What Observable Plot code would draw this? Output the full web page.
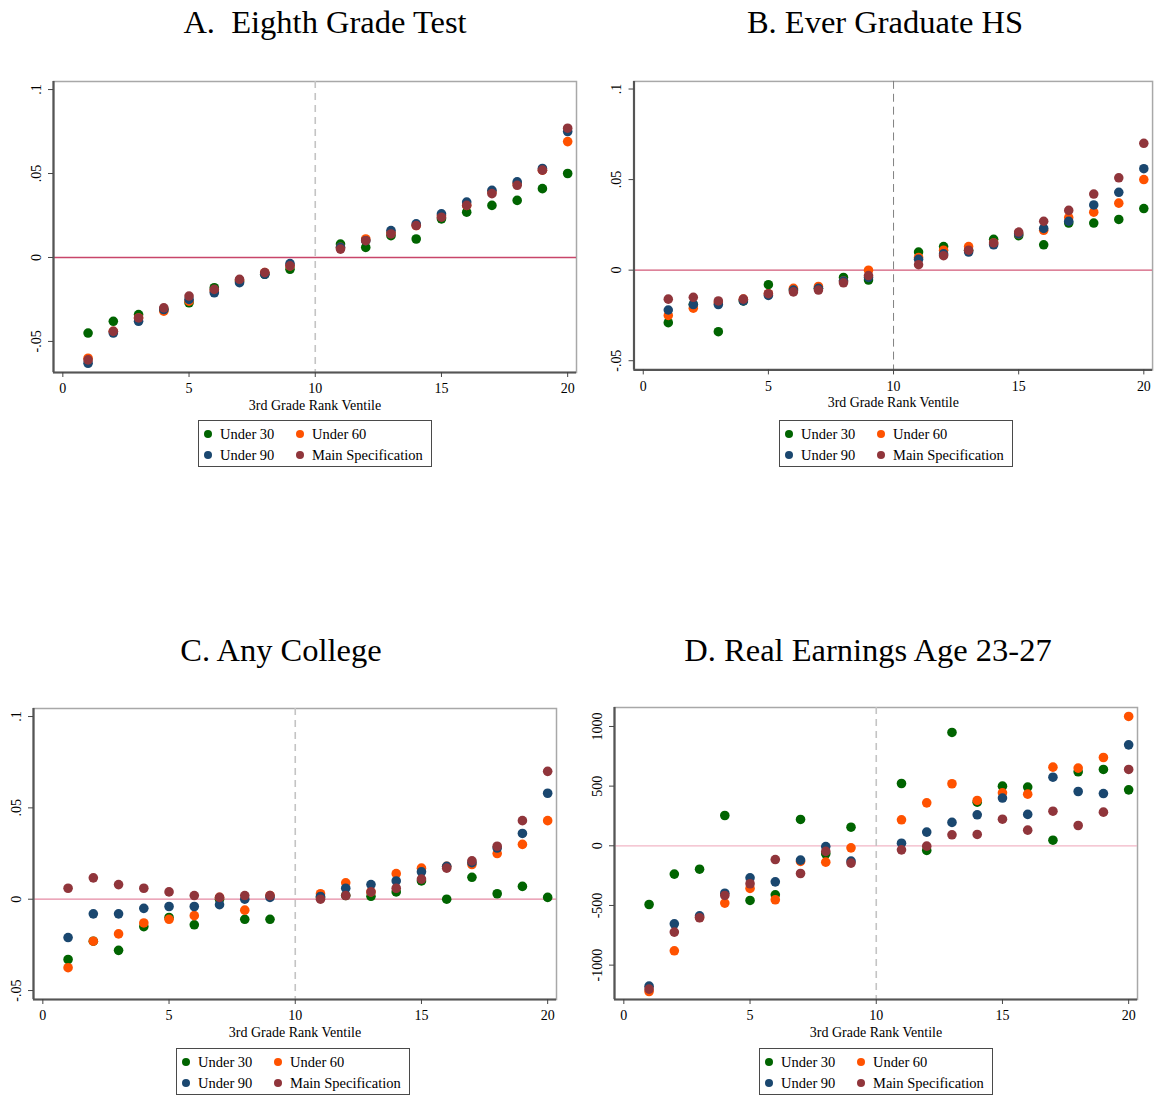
<!DOCTYPE html>
<html>
<head>
<meta charset="utf-8">
<script src="https://cdn.jsdelivr.net/npm/d3@7"></script>
<script src="https://cdn.jsdelivr.net/npm/@observablehq/plot@0.6"></script>
<style>
  body { margin: 0; background: #fff; }
  #root { position: relative; width: 1162px; height: 1097px; overflow: hidden; background: #fff; font-family: "Liberation Serif", "Times New Roman", serif; color: #000; }
  .title { position: absolute; font-size: 32.5px; white-space: pre; transform: translate(-50%, -50%); line-height: 1; }
  .panel { position: absolute; }
  .legend { position: absolute; width: 234px; height: 47px; border: 1.5px solid #4a4a4a; box-sizing: border-box; background: #fff; font-size: 14.5px; }
  .legend .dot { position: absolute; width: 8px; height: 8px; border-radius: 50%; transform: translate(-50%, -50%); }
  .legend .lab { position: absolute; white-space: nowrap; transform: translateY(-50%); line-height: 1; }
</style>
</head>
<body>
<div id="root"></div>
<script>
// ---------- data ----------
const ventiles = [1, 2, 3, 4, 5, 6, 7, 8, 9, 11, 12, 13, 14, 15, 16, 17, 18, 19, 20];
const seriesNames = ["Under 30", "Under 60", "Under 90", "Main Specification"];
const seriesColors = ["#006400", "#ff5200", "#1a476f", "#90353b"];

// A. Eighth Grade Test
const aUnder30 = [-0.045, -0.038, -0.034, -0.031, -0.027, -0.018, -0.014, -0.010, -0.007, 0.008, 0.006, 0.013, 0.011, 0.023, 0.027, 0.031, 0.034, 0.041, 0.050];
const aUnder60 = [-0.060, -0.044, -0.036, -0.032, -0.026, -0.020, -0.014, -0.009, -0.005, 0.006, 0.011, 0.015, 0.019, 0.025, 0.031, 0.039, 0.044, 0.052, 0.069];
const aUnder90 = [-0.063, -0.045, -0.038, -0.031, -0.025, -0.021, -0.015, -0.010, -0.0036, 0.006, 0.010, 0.016, 0.020, 0.026, 0.033, 0.040, 0.045, 0.053, 0.075];
const aMain    = [-0.061, -0.044, -0.036, -0.030, -0.023, -0.019, -0.013, -0.009, -0.005, 0.005, 0.010, 0.014, 0.019, 0.024, 0.031, 0.038, 0.043, 0.052, 0.077];

// B. Ever Graduate HS
const bUnder30 = [-0.029, -0.019, -0.034, -0.017, -0.008, -0.011, -0.010, -0.004, -0.0055, 0.010, 0.013, 0.011, 0.017, 0.019, 0.014, 0.026, 0.026, 0.028, 0.034];
const bUnder60 = [-0.025, -0.021, -0.018, -0.016, -0.013, -0.010, -0.009, -0.006, 0.000, 0.007, 0.011, 0.013, 0.015, 0.020, 0.022, 0.029, 0.032, 0.037, 0.050];
const bUnder90 = [-0.022, -0.019, -0.019, -0.017, -0.014, -0.011, -0.010, -0.006, -0.004, 0.006, 0.009, 0.010, 0.014, 0.020, 0.023, 0.027, 0.036, 0.043, 0.056];
const bMain    = [-0.016, -0.015, -0.017, -0.016, -0.013, -0.012, -0.011, -0.007, -0.003, 0.003, 0.008, 0.011, 0.015, 0.021, 0.027, 0.033, 0.042, 0.051, 0.070];

// C. Any College
const cUnder30 = [-0.033, -0.023, -0.028, -0.015, -0.010, -0.014, 0.000, -0.011, -0.011, 0.001, 0.002, 0.0016, 0.004, 0.010, 0.000, 0.012, 0.003, 0.007, 0.001];
const cUnder60 = [-0.0375, -0.023, -0.019, -0.013, -0.011, -0.009, 0.001, -0.006, 0.002, 0.003, 0.009, 0.004, 0.014, 0.017, 0.018, 0.019, 0.025, 0.030, 0.043];
const cUnder90 = [-0.021, -0.008, -0.008, -0.005, -0.004, -0.004, -0.003, 0.000, 0.001, 0.0015, 0.006, 0.008, 0.010, 0.015, 0.018, 0.020, 0.028, 0.036, 0.058];
const cMain    = [0.006, 0.0117, 0.008, 0.006, 0.004, 0.002, 0.001, 0.002, 0.002, 0.000, 0.002, 0.004, 0.006, 0.011, 0.017, 0.021, 0.029, 0.043, 0.070];

// D. Real Earnings Age 23-27
const dUnder30 = [-492, -237, -196, 254, -458, -411, 221, -67, 156, 522, -39, 950, 366, 500, 492, 47, 620, 640, 469];
const dUnder60 = [-1221, -880, -600, -480, -357, -452, -131, -137, -17, 218, 360, 520, 380, 444, 433, 659, 651, 740, 1084];
const dUnder90 = [-1176, -654, -587, -397, -268, -302, -120, -6, -128, 22, 115, 196, 260, 400, 263, 575, 455, 438, 846];
const dMain    = [-1201, -723, -603, -416, -318, -115, -232, -47, -145, -34, -3, 92, 95, 223, 131, 290, 170, 282, 640];

// ticks
const xTicks = [0, 5, 10, 15, 20];
const shareTicks = [-0.05, 0, 0.05, 0.1];
const shareTickLabels = ["-.05", "0", ".05", ".1"];
const earnTicks = [-1000, -500, 0, 500, 1000];
const earnTickLabels = ["-1000", "-500", "0", "500", "1000"];
const xLabel = "3rd Grade Rank Ventile";
const cutoff = [10];
const zero = [0];

// ---------- layout ----------
const panels = [
  { title: "A.  Eighth Grade Test", tx: 325, ty: 22, frame: { left: 53, top: 81, bottom: 372 },
    yDomain: [-0.0685, 0.1048], yTicks: shareTicks, yLabels: shareTickLabels,
    series: [aUnder30, aUnder60, aUnder90, aMain], zeroColor: "#c8466a", zeroWidth: 1.5, dashColor: "#c4c4c4", dashWidth: 1.6, dash: "7,5",
    legend: { left: 198, top: 420 } },
  { title: "B. Ever Graduate HS", tx: 885, ty: 22, frame: { left: 634, top: 81, bottom: 372 },
    yDomain: [-0.0551, 0.1042], yTicks: shareTicks, yLabels: shareTickLabels,
    series: [bUnder30, bUnder60, bUnder90, bMain], zeroColor: "#d25a78", zeroWidth: 1.2, dashColor: "#808080", dashWidth: 1, dash: "8,5",
    legend: { left: 779, top: 420 } },
  { title: "C. Any College", tx: 281, ty: 650, frame: { left: 33, top: 708, bottom: 999 },
    yDomain: [-0.0549, 0.1044], yTicks: shareTicks, yLabels: shareTickLabels,
    series: [cUnder30, cUnder60, cUnder90, cMain], zeroColor: "#e58aa3", zeroWidth: 1.2, dashColor: "#c4c4c4", dashWidth: 1.6, dash: "7,5",
    legend: { left: 176, top: 1048 } },
  { title: "D. Real Earnings Age 23-27", tx: 868, ty: 650, frame: { left: 614, top: 707, bottom: 999 },
    yDomain: [-1288, 1159], yTicks: earnTicks, yLabels: earnTickLabels,
    series: [dUnder30, dUnder60, dUnder90, dMain], zeroColor: "#f2b6c6", zeroWidth: 1.2, dashColor: "#c4c4c4", dashWidth: 1.6, dash: "7,5",
    legend: { left: 759, top: 1048 } }
];

const xDomain = [-0.37, 20.35];
const plotW = 523, mL = 60, mR = 10, mT = 10, mB = 50;
const root = document.getElementById("root");

for (const p of panels) {
  const rows = [];
  p.series.forEach((vals, si) => {
    vals.forEach((v, i) => rows.push({ x: ventiles[i], y: v, s: seriesNames[si] }));
  });
  const labelOf = new Map(p.yTicks.map((t, i) => [t, p.yLabels[i]]));
  const plotH = p.frame.bottom - p.frame.top;
  const chart = Plot.plot({
    width: mL + plotW + mR,
    height: mT + plotH + mB,
    marginLeft: mL, marginRight: mR, marginTop: mT, marginBottom: mB,
    style: { fontFamily: "'Liberation Serif', serif", fontSize: "14px", color: "#000", background: "transparent", overflow: "visible" },
    x: { domain: xDomain },
    y: { domain: p.yDomain },
    color: { domain: seriesNames, range: seriesColors },
    marks: [
      Plot.frame({ stroke: "#a8a8a8", strokeWidth: 1.5 }),
      Plot.ruleY(zero, { stroke: p.zeroColor, strokeWidth: p.zeroWidth }),
      Plot.ruleX(cutoff, { stroke: p.dashColor, strokeWidth: p.dashWidth, strokeDasharray: p.dash }),
      Plot.dot(rows, { x: "x", y: "y", fill: "s", r: 4.8 }),
      Plot.ruleX([xDomain[0]], { stroke: "#555", strokeWidth: 2.2 }),
      Plot.ruleY([p.yDomain[0]], { stroke: "#555", strokeWidth: 2.2 }),
      Plot.axisX({ ticks: xTicks, tickSize: 5, tickPadding: 6, label: null, stroke: "#444" }),
      Plot.axisY({ ticks: p.yTicks, tickSize: 5, tickPadding: 8, tickRotate: -90, label: null, tickFormat: d => labelOf.get(d), stroke: "#444" }),
      Plot.text([xLabel], { frameAnchor: "bottom", dy: 37, fontSize: 14 })
    ]
  });
  const holder = document.createElement("div");
  holder.className = "panel";
  holder.style.left = (p.frame.left - mL) + "px";
  holder.style.top = (p.frame.top - mT) + "px";
  holder.appendChild(chart);
  root.appendChild(holder);

  const t = document.createElement("div");
  t.className = "title";
  t.textContent = p.title;
  t.style.left = p.tx + "px";
  t.style.top = p.ty + "px";
  root.appendChild(t);

  const lg = document.createElement("div");
  lg.className = "legend";
  lg.style.left = p.legend.left + "px";
  lg.style.top = p.legend.top + "px";
  const pos = [[9, 13], [101, 13], [9, 34], [101, 34]];
  seriesNames.forEach((name, i) => {
    const d = document.createElement("div");
    d.className = "dot";
    d.style.background = seriesColors[i];
    d.style.left = pos[i][0] + "px";
    d.style.top = pos[i][1] + "px";
    lg.appendChild(d);
    const l = document.createElement("div");
    l.className = "lab";
    l.textContent = name;
    l.style.left = (pos[i][0] + 12) + "px";
    l.style.top = pos[i][1] + "px";
    lg.appendChild(l);
  });
  root.appendChild(lg);
}
</script>
</body>
</html>
